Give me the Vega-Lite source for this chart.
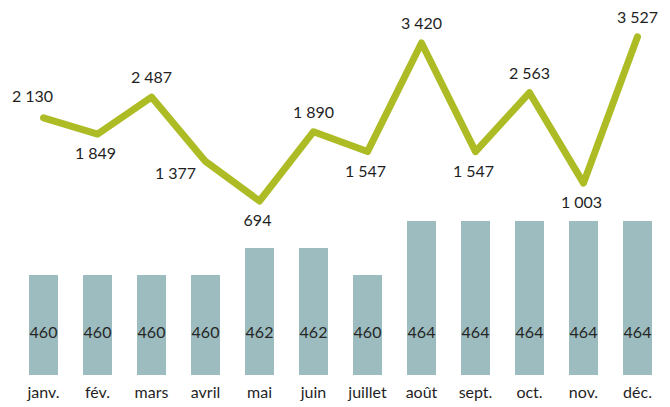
{
  "$schema": "https://vega.github.io/schema/vega-lite/v6.json",
  "width": 648,
  "height": 375,
  "autosize": {"type": "none"},
  "padding": {"left": 16.5, "top": 0, "right": 5.5, "bottom": 32},
  "background": "white",
  "config": {
    "view": {"stroke": null},
    "font": "Lato",
    "locale": {"number": {"decimal": ",", "thousands": " ", "grouping": [3], "currency": ["", " €"]}}
  },
  "data": {
    "values": [
      {"mois": "janv.", "ligne": 2130, "barre": 460},
      {"mois": "fév.", "ligne": 1849, "barre": 460},
      {"mois": "mars", "ligne": 2487, "barre": 460},
      {"mois": "avril", "ligne": 1377, "barre": 460},
      {"mois": "mai", "ligne": 694, "barre": 462},
      {"mois": "juin", "ligne": 1890, "barre": 462},
      {"mois": "juillet", "ligne": 1547, "barre": 460},
      {"mois": "août", "ligne": 3420, "barre": 464},
      {"mois": "sept.", "ligne": 1547, "barre": 464},
      {"mois": "oct.", "ligne": 2563, "barre": 464},
      {"mois": "nov.", "ligne": 1003, "barre": 464},
      {"mois": "déc.", "ligne": 3527, "barre": 464}
    ]
  },
  "encoding": {
    "x": {
      "field": "mois",
      "type": "nominal",
      "sort": null,
      "scale": {"paddingInner": 0.463, "paddingOuter": 0.2315},
      "axis": {
        "title": null,
        "domain": false,
        "ticks": false,
        "labelAngle": 0,
        "labelFontSize": 16,
        "labelColor": "#1f1f1f",
        "labelPadding": 9,
        "labelFont": "Lato"
      }
    }
  },
  "layer": [
    {
      "encoding": {
        "y": {"type": "quantitative", "scale": {"domain": [452.59, 480.37], "zero": false, "nice": false}, "axis": null}
      },
      "layer": [
        {
          "mark": {"type": "bar", "color": "#9cbcc0"},
          "encoding": {
            "y": {"field": "barre", "type": "quantitative"},
            "y2": {"datum": 452.59}
          }
        },
        {
          "mark": {"type": "text", "fontSize": 16, "color": "#262626", "baseline": "middle"},
          "encoding": {
            "y": {"datum": 455.7, "type": "quantitative"},
            "text": {"field": "barre", "type": "quantitative", "format": "d"}
          }
        }
      ]
    },
    {
      "encoding": {
        "y": {"field": "ligne", "type": "quantitative", "scale": {"domain": [-2307.5, 4161.8], "zero": false, "nice": false}, "axis": null}
      },
      "layer": [
        {
          "mark": {"type": "line", "color": "#adbc24", "strokeWidth": 7, "strokeCap": "round", "strokeJoin": "round"}
        },
        {
          "transform": [{"filter": {"field": "mois", "oneOf": ["mars", "juin", "août", "oct.", "déc."]}}],
          "mark": {"type": "text", "fontSize": 16, "color": "#1f1f1f", "baseline": "middle", "dy": -19},
          "encoding": {"text": {"field": "ligne", "type": "quantitative", "format": ",d"}}
        },
        {
          "transform": [{"filter": {"field": "mois", "equal": "janv."}}],
          "mark": {"type": "text", "fontSize": 16, "color": "#1f1f1f", "baseline": "middle", "dy": -21, "dx": -11},
          "encoding": {"text": {"field": "ligne", "type": "quantitative", "format": ",d"}}
        },
        {
          "transform": [{"filter": {"field": "mois", "oneOf": ["fév.", "mai", "juillet", "sept.", "nov."]}}],
          "mark": {"type": "text", "fontSize": 16, "color": "#1f1f1f", "baseline": "middle", "dy": 20, "dx": -2},
          "encoding": {"text": {"field": "ligne", "type": "quantitative", "format": ",d"}}
        },
        {
          "transform": [{"filter": {"field": "mois", "equal": "avril"}}],
          "mark": {"type": "text", "fontSize": 16, "color": "#1f1f1f", "baseline": "middle", "dy": 13, "dx": -30},
          "encoding": {"text": {"field": "ligne", "type": "quantitative", "format": ",d"}}
        }
      ]
    }
  ],
  "resolve": {"scale": {"y": "independent"}}
}
